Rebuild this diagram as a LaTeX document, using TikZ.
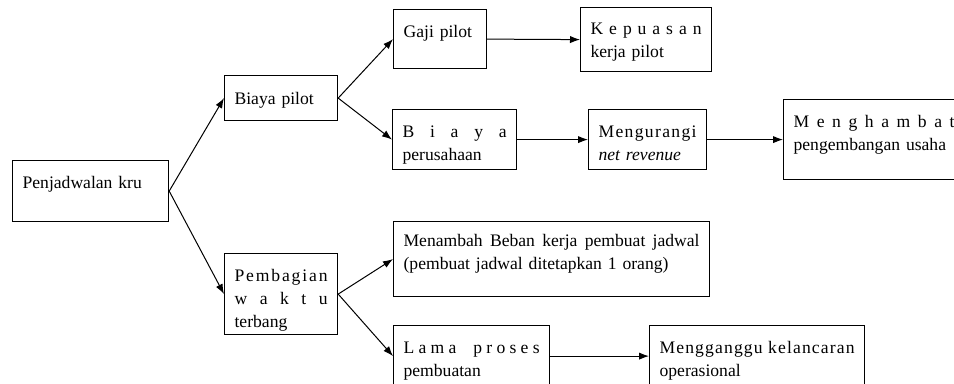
\documentclass[tikz,border=0pt]{standalone}
\usepackage{fontspec}
\setmainfont{Liberation Serif}
\usetikzlibrary{arrows.meta}

\newcommand{\spreadline}[1]{{\spaceskip=0pt plus 1fil\relax\makebox[\linewidth][s]{#1}}}

\begin{document}
\begin{tikzpicture}[x=0.75pt,y=-0.75pt,
    box/.style={draw,line width=0.9pt,anchor=north west,align=left,inner xsep=7.5pt,inner ysep=0pt,
        font=\fontsize{13.2}{17.25}\selectfont},
    arr/.style={-{Latex[length=7.5pt,width=5.5pt]},line width=0.75pt}
]
\useasboundingbox (0,0) rectangle (954,383);
\clip (0,0) rectangle (954,383);

\node[box,text width=102pt,text height=21pt,text depth=24.75pt] (kru) at (12,160) {Penjadwalan kru};

\node[box,text width=69.75pt,text height=21.75pt,text depth=12pt] (biaya) at (224,75) {Biaya pilot};
\node[box,text width=69.75pt,text height=21pt,text depth=39.75pt] (waktu) at (224,253)
    {\spreadline{P e m b a g i a n}\\ \spreadline{w a k t u}\\ terbang};

\node[box,text width=54.75pt,text height=21pt,text depth=23.25pt] (gaji) at (393,9) {Gaji pilot};
\node[box,text width=83.25pt,text height=20.25pt,text depth=27.75pt] (kepuasan) at (580,7)
    {\spreadline{K e p u a s a n}\\ kerja pilot};

\node[box,text width=78pt,text height=21pt,text depth=24pt] (biayaper) at (392,109)
    {\spreadline{B i a y a}\\ perusahaan};
\node[box,text width=73.5pt,text height=21pt,text depth=24pt] (netrev) at (588,109)
    {\spreadline{M e n g u r a n g i}\\ \textit{net revenue}};
\node[box,text width=120.75pt,text height=21pt,text depth=39pt] (hambat) at (783,99)
    {\spreadline{M e n g h a m b a t}\\ pengembangan usaha};

\node[box,text width=222pt,text height=18.75pt,text depth=37.5pt] (beban) at (393,221)
    {\spreadline{Menambah Beban kerja pembuat jadwal}\\ (pembuat jadwal ditetapkan 1 orang)};
\node[box,text width=102pt,text height=21pt,text depth=24.75pt] (proses) at (393,325)
    {\spreadline{L a m a\hspace{0pt plus 3fil} p r o s e s}\\ pembuatan};
\node[box,text width=146.25pt,text height=21pt,text depth=24.75pt] (ganggu) at (649,325)
    {\spreadline{M e n g g a n g g u\hspace{0.25em} k e l a n c a r a n}\\ operasional};

\draw[arr] (kru.east) -- (biaya.west);
\draw[arr] (kru.east) -- (waktu.west);
\draw[arr] (biaya.east) -- (gaji.west);
\draw[arr] (biaya.east) -- (biayaper.west);
\draw[arr] (gaji.east) -- (kepuasan.west);
\draw[arr] (biayaper.east) -- (netrev.west);
\draw[arr] (netrev.east) -- (hambat.west);
\draw[arr] (waktu.east) -- (beban.west);
\draw[arr] (waktu.east) -- (proses.west);
\draw[arr] (proses.east) -- (ganggu.west);
\end{tikzpicture}
\end{document}
